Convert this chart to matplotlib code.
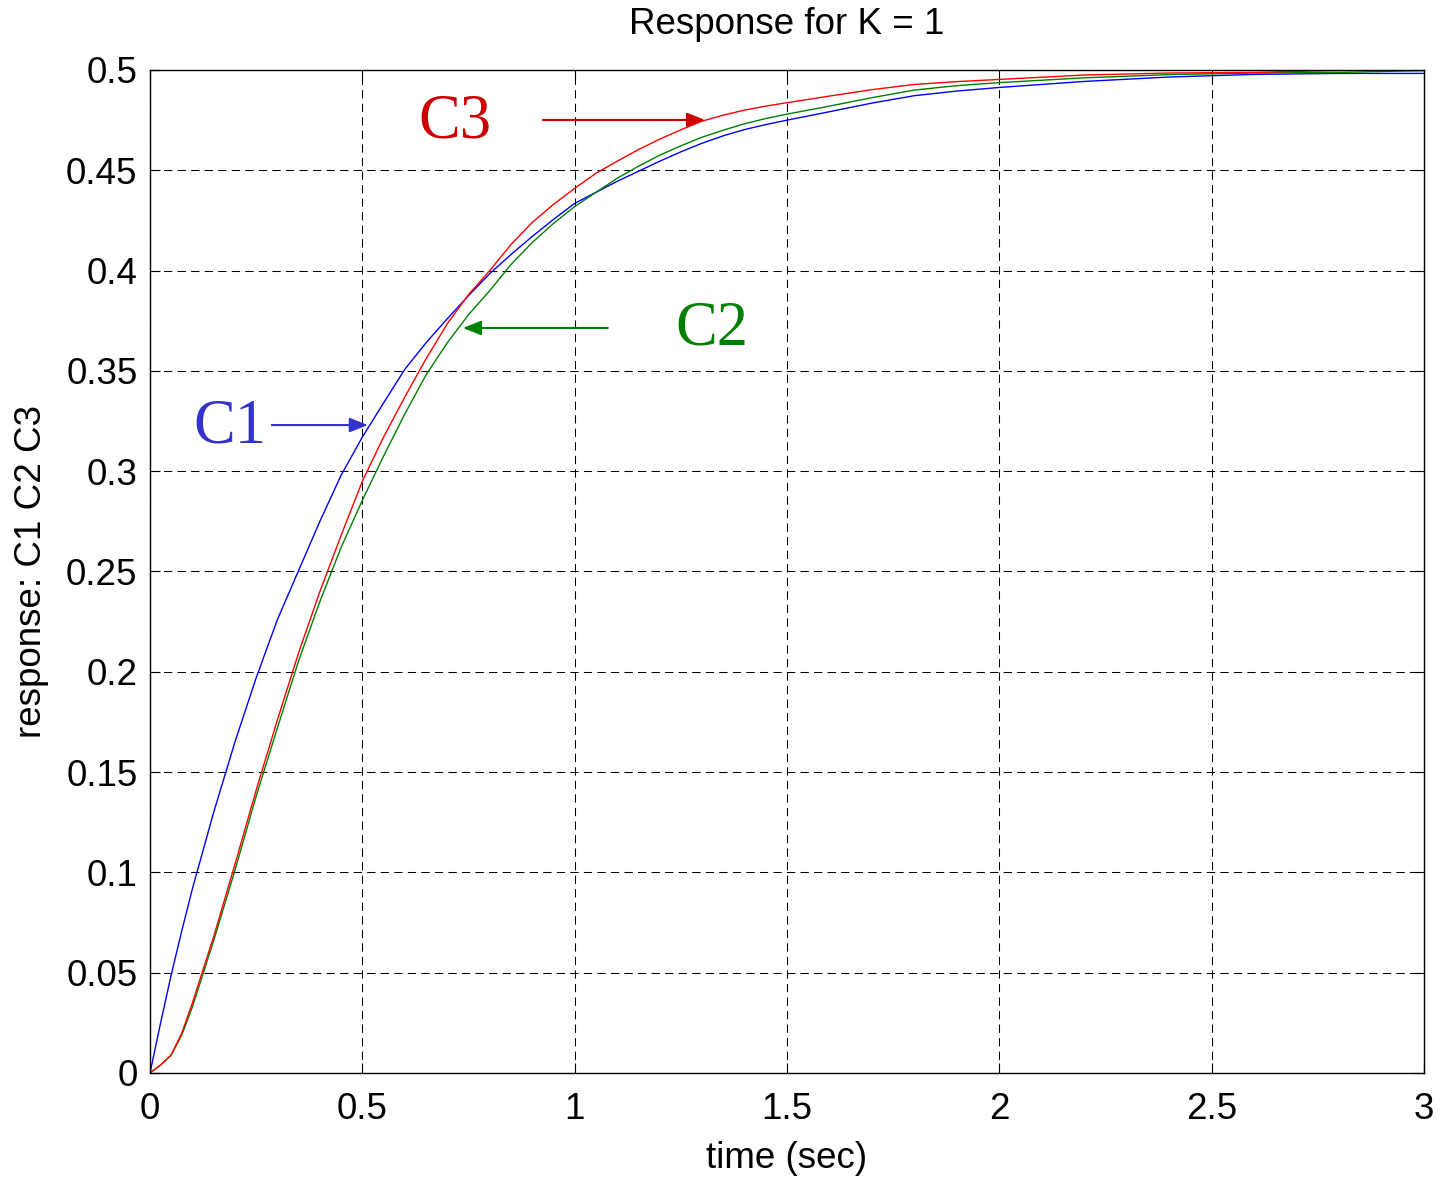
import matplotlib
matplotlib.use("Agg")
import matplotlib.pyplot as plt

# Sample times (s) and step responses of the three outputs
t = [0.0, 0.025, 0.05, 0.075,
     0.1, 0.15, 0.2, 0.25, 0.3, 0.35, 0.4, 0.45, 0.5, 0.55, 0.6, 0.65,
     0.7, 0.75, 0.8, 0.85, 0.9, 0.95, 1.0, 1.05, 1.1, 1.15, 1.2, 1.25,
     1.3, 1.35, 1.4, 1.45, 1.5,
     1.6, 1.7, 1.8, 1.9, 2.0,
     2.2, 2.4, 2.6, 2.8, 3.0]

c1 = [0.0, 0.025, 0.049, 0.071,
      0.092, 0.130, 0.165, 0.197, 0.226, 0.2505, 0.275, 0.298, 0.317, 0.334,
      0.3508, 0.364, 0.376, 0.3875, 0.3985, 0.408, 0.417, 0.4255, 0.4335,
      0.439, 0.4445, 0.4495, 0.4545, 0.4592, 0.4635, 0.4672, 0.4703, 0.4728,
      0.4750,
      0.4792, 0.4835, 0.4872, 0.4895, 0.4913,
      0.4943, 0.4965, 0.4978, 0.4983, 0.4983]

c2 = [0.0, 0.004, 0.009, 0.019,
      0.033, 0.066, 0.101, 0.138, 0.172, 0.2055, 0.235, 0.262, 0.2855, 0.3075,
      0.3285, 0.348, 0.364, 0.378, 0.390, 0.403, 0.414, 0.4235, 0.4319,
      0.439, 0.446, 0.452, 0.4575, 0.4622, 0.4665, 0.470, 0.4732, 0.4758,
      0.478,
      0.482, 0.4862, 0.4900, 0.4922, 0.4937,
      0.4961, 0.4977, 0.4985, 0.4988, 0.4997]

c3 = [0.0, 0.004, 0.009, 0.020,
      0.035, 0.068, 0.104, 0.141, 0.176, 0.2095, 0.240, 0.268, 0.295, 0.317,
      0.337, 0.356, 0.3735, 0.388, 0.400, 0.413, 0.424, 0.433, 0.441,
      0.4485, 0.4545, 0.4603, 0.4655, 0.4702, 0.4745, 0.4775, 0.480, 0.482,
      0.4837,
      0.487, 0.4902, 0.4928, 0.4942, 0.4953,
      0.4975, 0.4985, 0.4988, 0.4998, 0.4998]

x_ticks = [0, 0.5, 1, 1.5, 2, 2.5, 3]
x_tick_labels = ["0", "0.5", "1", "1.5", "2", "2.5", "3"]
y_ticks = [0, 0.05, 0.1, 0.15, 0.2, 0.25, 0.3, 0.35, 0.4, 0.45, 0.5]
y_tick_labels = ["0", "0.05", "0.1", "0.15", "0.2", "0.25", "0.3", "0.35",
                 "0.4", "0.45", "0.5"]

plt.rcParams["font.family"] = ["Liberation Sans", "DejaVu Sans"]

fig = plt.figure(figsize=(14.43, 11.80), dpi=100)
ax = fig.add_axes([0.10395, 0.09068, 0.98683 - 0.10395, 0.94068 - 0.09068])

ax.plot(t, c1, color="#0000ff", lw=1.0)
ax.plot(t, c2, color="#008000", lw=1.0)
ax.plot(t, c3, color="#ff0000", lw=1.0)

ax.set_xlim(0, 3)
ax.set_ylim(0, 0.5)
ax.set_xticks(x_ticks)
ax.set_xticklabels(x_tick_labels)
ax.set_yticks(y_ticks)
ax.set_yticklabels(y_tick_labels)
ax.tick_params(direction="in", length=7, width=0.8, top=True, right=True,
               labelsize=26.5)
ax.tick_params(axis="x", pad=14)
ax.tick_params(axis="y", pad=9)
for sp in ax.spines.values():
    sp.set_linewidth(1.0)

ax.grid(True, color="black", lw=0.75, linestyle=(0, (8, 5)))
ax.set_axisbelow(True)

ax.set_title("Response for K = 1", fontsize=26.5, pad=26)
ax.set_xlabel("time (sec)", fontsize=26.5, labelpad=10)
ax.set_ylabel("response: C1 C2 C3", fontsize=26.5, labelpad=12)

serif = ["Liberation Serif", "DejaVu Serif"]
labels = [
    ("C1", (0.188, 0.322), (0.287, 0.323), (0.513, 0.323), "#3333cc"),
    ("C2", (1.323, 0.3704), (1.078, 0.3714), (0.737, 0.3714), "#008000"),
    ("C3", (0.718, 0.474), (0.925, 0.4751), (1.307, 0.4751), "#cc0000"),
]
for name, txt_pos, tail, tip, col in labels:
    ax.text(txt_pos[0], txt_pos[1], name, color=col, fontsize=45,
            family=serif, ha="center", va="center")
    ax.annotate("", xy=tip, xytext=tail,
                arrowprops=dict(arrowstyle="-|>,head_length=0.55,head_width=0.22",
                                mutation_scale=20, color=col, lw=1.5,
                                shrinkA=0, shrinkB=0))

fig.savefig("out.png", dpi=100)
